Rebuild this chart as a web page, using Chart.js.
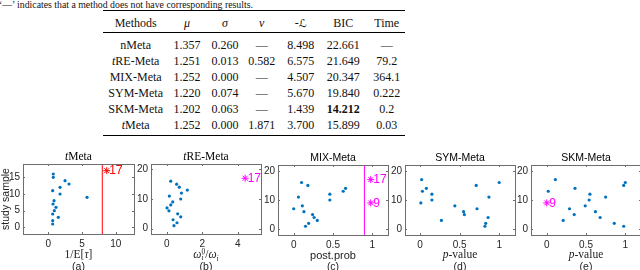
<!DOCTYPE html>
<html>
<head>
<meta charset="utf-8">
<script src="https://cdn.jsdelivr.net/npm/chart.js@4.4.1/dist/chart.umd.min.js"></script>
<style>
html, body { margin: 0; padding: 0; background: #fff; }
body { width: 640px; height: 270px; overflow: hidden; position: relative; font-family: 'Liberation Sans', Arial, sans-serif; color: #111; }
.txt { position: absolute; white-space: nowrap; transform: translate(-50%, -50%); line-height: 1; }
.serif { font-family: 'Liberation Serif', 'Times New Roman', serif; }
.scriptL { font-family: 'DejaVu Sans', sans-serif; font-size: 11px; }
.rule { position: absolute; background: #000; left: 103px; width: 302px; }
canvas { position: absolute; }
</style>
</head>
<body>
<div class="serif" style="position:absolute;left:-1px;top:-1.5px;font-size:9.8px;white-space:nowrap;">‘—’ indicates that a method does not have corresponding results.</div>
<div class="rule" style="top:10px;height:1.4px;"></div>
<div class="rule" style="top:32px;height:0.8px;"></div>
<div class="rule" style="top:134.5px;height:1.4px;"></div>
<div id="table"></div>

<script>
// ----- TABLE DATA -----
const tableHeaders = ['Methods', '<i>μ</i>', '<i>σ</i>', '<i>ν</i>', '-<span class="scriptL">ℒ</span>', 'BIC', 'Time'];
const methods = ['nMeta', 'tRE-Meta', 'MIX-Meta', 'SYM-Meta', 'SKM-Meta', 'tMeta'];
const muVals = [1.357, 1.251, 1.252, 1.220, 1.202, 1.252];
const sigmaVals = [0.260, 0.013, 0.000, 0.074, 0.063, 0.000];
const nuVals = [null, 0.582, null, null, null, 1.871];
const negLogLik = [8.498, 6.575, 4.507, 5.670, 1.439, 3.700];
const bicVals = [22.661, 21.649, 20.347, 19.840, 14.212, 15.899];
const timeVals = ['—', '79.2', '364.1', '0.222', '0.2', '0.03'];
const bestBic = 4; // SKM-Meta row in bold

// ----- PLOT DATA -----
// (a) tMeta: 1/E[tau]
const yA = [1, 2, 3, 4, 5, 6, 7, 8, 9, 10, 11, 12, 13, 14, 15, 16];
const xA = [0.65, 0.65, 1.48, 0.65, 0.89, 1.14, 0.70, 0.85, 5.74, 1.74, 0.65, 1.74, 3.07, 2.48, 0.74, 0.74];
const marksA = [{ x: 8.66, y: 17, label: '17' }];
const cutA = 8.0;
const xTicksA = [0, 5, 10];
const yTicksA = [0, 5, 10, 15];

// (b) tRE-Meta: omega ratio
const yB = [1, 2, 3, 4, 5, 6, 7, 8, 9, 10, 11, 12, 13, 14, 15, 16];
const xB = [0.41, 0.58, 0.36, 0.79, 0.62, 0.13, 0.02, 0.23, 0.34, 0.79, 0.15, 0.83, 1.16, 0.71, 0.56, 0.23];
const marksB = [{ x: 4.41, y: 17, label: '17' }];
const xTicksB = [0, 2, 4];

// (c) MIX-Meta: posterior probability
const yC = [1, 2, 3, 4, 5, 6, 7, 8, 10, 11, 12, 13, 14, 15, 16];
const xC = [0.15, 0.19, 0.30, 0.26, 0.24, 0.13, 0.00, 0.11, 0.46, 0.06, 0.46, 0.63, 0.66, 0.18, 0.10];
const marksC = [{ x: 0.98, y: 17, label: '17' }, { x: 0.98, y: 9, label: '9' }];
const cutC = 0.9;

// (d) SYM-Meta: p-value
const yD = [1, 2, 3, 4, 5, 6, 7, 8, 9, 10, 11, 12, 13, 14, 15, 16, 17];
const xD = [0.82, 0.83, 0.27, 0.86, 0.56, 0.55, 0.72, 0.44, 0.01, 0.15, 0.87, 0.15, 0.03, 0.08, 0.71, 1.00, 0.02];

// (e) SKM-Meta: p-value
const yE = [1, 2, 3, 4, 5, 6, 7, 8, 10, 11, 12, 13, 14, 15, 16, 17];
const xE = [0.98, 0.86, 0.21, 0.68, 0.35, 0.62, 0.29, 0.49, 0.54, 0.75, 0.55, 0.02, 0.36, 0.98, 1.00, 0.11];
const marksE = [{ x: 0.0, y: 9, label: '9' }];

const xTicksP = [0, 0.5, 1];
const yTicks20 = [0, 10, 20];

const BLUE = '#0072bd';
const RED = '#ff0000';
const MAGENTA = '#ff00ff';

// ----- TABLE -----
function fmt(v) { return v == null ? '—' : v.toFixed(3); }
function methodName(m) { return m.replace(/^t/, '<i>t</i>'); }

function renderTable() {
    const colX = [135.7, 187, 225, 261.7, 300.7, 343.3, 386.7];
    const rowY = [45, 61, 77, 92.8, 108.7, 124.7];
    let html = tableHeaders.map((h, c) =>
        `<div class="txt serif" style="left:${colX[c]}px;top:22.5px;font-size:12px;">${h}</div>`).join('');
    methods.forEach((m, r) => {
        const cells = [methodName(m), fmt(muVals[r]), fmt(sigmaVals[r]), fmt(nuVals[r]), fmt(negLogLik[r]),
            r === bestBic ? `<b>${fmt(bicVals[r])}</b>` : fmt(bicVals[r]), timeVals[r]];
        html += cells.map((t, c) =>
            `<div class="txt serif" style="left:${colX[c]}px;top:${rowY[r]}px;font-size:12px;">${t}</div>`).join('');
    });
    document.getElementById('table').innerHTML = html;
}

// ----- PLOTS -----
const boxPlugin = {
    id: 'matlabBox',
    afterDatasetsDraw(chart) {
        const { ctx, chartArea: a, scales } = chart;
        ctx.save();
        ctx.strokeStyle = '#6e6e6e';
        ctx.lineWidth = 1;
        ctx.strokeRect(Math.round(a.left) + 0.5, Math.round(a.top) + 0.5, Math.round(a.right - a.left), Math.round(a.bottom - a.top));
        ctx.beginPath();
        scales.x.ticks.forEach(t => {
            const px = Math.round(scales.x.getPixelForValue(t.value)) + 0.5;
            ctx.moveTo(px, a.bottom); ctx.lineTo(px, a.bottom - 2);
            ctx.moveTo(px, a.top); ctx.lineTo(px, a.top + 2);
        });
        scales.y.ticks.forEach(t => {
            const py = Math.round(scales.y.getPixelForValue(t.value)) + 0.5;
            ctx.moveTo(a.left, py); ctx.lineTo(a.left + 2, py);
            ctx.moveTo(a.right, py); ctx.lineTo(a.right - 2, py);
        });
        ctx.stroke();

        // text next to the flagged studies
        chart.data.datasets.forEach((ds, i) => {
            if (!ds.labels) return;
            const meta = chart.getDatasetMeta(i);
            ctx.fillStyle = ds.borderColor;
            ctx.font = '12px "Liberation Sans", Arial, sans-serif';
            ctx.textBaseline = 'middle';
            meta.data.forEach((pt, k) => ctx.fillText(ds.labels[k], pt.x + 2.5, pt.y + 0.5));
        });
        ctx.restore();
    }
};

const panels = [
    { box: [23, 163, 111, 71], xs: xA, ys: yA, marks: marksA, color: RED, cut: cutA,
      xRange: [-3.75, 12.7], yRange: [-2, 19], xTicks: xTicksA, yTicks: yTicksA,
      title: '<i>t</i>Meta', titleSerif: true, xlabel: '1/E[<i>τ</i>]', xlabelSerif: true, tag: '(a)' },
    { box: [151, 163, 110, 71.5], xs: xB, ys: yB, marks: marksB, color: MAGENTA, cut: null,
      xRange: [-0.88, 5.3], yRange: [-1.8, 21.8], xTicks: xTicksB, yTicks: yTicks20,
      title: '<i>t</i>RE-Meta', titleSerif: true,
      xlabel: '<i>ω</i><span style="display:inline-block;vertical-align:middle;line-height:0.75;font-size:7.5px;"><span style="display:block">0</span><span style="display:block"><i>i</i></span></span>/<i>ω</i><sub style="font-size:7.5px;line-height:0"><i>i</i></sub>',
      xlabelSerif: true, tag: '(b)' },
    { box: [278, 164, 110, 71.5], xs: xC, ys: yC, marks: marksC, color: MAGENTA, cut: cutC,
      xRange: [-0.2, 1.2], yRange: [-2, 22], xTicks: xTicksP, yTicks: yTicks20,
      title: 'MIX-Meta', titleSerif: false, xlabel: 'post.prob', xlabelSerif: false, tag: '(c)' },
    { box: [405, 164, 110, 71.5], xs: xD, ys: yD, marks: [], color: MAGENTA, cut: null,
      xRange: [-0.19, 1.2], yRange: [-2, 22], xTicks: xTicksP, yTicks: yTicks20,
      title: 'SYM-Meta', titleSerif: false, xlabel: '<i>p</i>-value', xlabelSerif: true, tag: '(d)' },
    { box: [531, 164, 110, 71.5], xs: xE, ys: yE, marks: marksE, color: MAGENTA, cut: null,
      xRange: [-0.2, 1.2], yRange: [-2, 22], xTicks: xTicksP, yTicks: yTicks20,
      title: 'SKM-Meta', titleSerif: false, xlabel: '<i>p</i>-value', xlabelSerif: true, tag: '(e)' }
];

function addText(html, cx, cy, size, serif, extra) {
    const d = document.createElement('div');
    d.className = 'txt' + (serif ? ' serif' : '');
    d.style.left = cx + 'px';
    d.style.top = cy + 'px';
    d.style.fontSize = size + 'px';
    if (extra) d.style.cssText += extra;
    d.innerHTML = html;
    document.body.appendChild(d);
}

function makePanel(p) {
    const YW = 22, PT = 8, PR = 10, XH = 18;
    const [bx, by, bw, bh] = p.box;
    const cv = document.createElement('canvas');
    cv.width = bw + YW + PR;
    cv.height = bh + PT + XH;
    cv.style.left = (bx - YW) + 'px';
    cv.style.top = (by - PT) + 'px';
    document.body.appendChild(cv);

    const datasets = [{
        data: p.xs.map((x, k) => ({ x, y: p.ys[k] })),
        pointRadius: 1.6, pointBackgroundColor: BLUE, pointBorderWidth: 0, showLine: false
    }];
    if (p.marks.length) {
        datasets.push({
            data: p.marks.map(m => ({ x: m.x, y: m.y })), labels: p.marks.map(m => m.label),
            pointStyle: 'star', pointRadius: 3.5, borderColor: p.color, pointBorderColor: p.color,
            pointBorderWidth: 1, showLine: false
        });
    }
    if (p.cut != null) {
        datasets.push({
            data: [{ x: p.cut, y: p.yRange[0] }, { x: p.cut, y: p.yRange[1] }],
            showLine: true, borderColor: p.color, borderWidth: 1, pointRadius: 0
        });
    }

    const tickFont = { size: 10, family: '"Liberation Sans", Arial, sans-serif' };
    new Chart(cv, {
        type: 'scatter',
        data: { datasets },
        options: {
            responsive: false, animation: false, devicePixelRatio: 1,
            layout: { padding: { top: PT, right: PR, left: 0, bottom: 0 } },
            plugins: { legend: { display: false }, tooltip: { enabled: false } },
            scales: {
                x: {
                    type: 'linear', min: p.xRange[0], max: p.xRange[1],
                    afterBuildTicks: s => { s.ticks = p.xTicks.map(v => ({ value: v })); },
                    afterFit: s => { s.height = XH; },
                    grid: { display: false, drawTicks: false }, border: { display: false },
                    ticks: { padding: 4, color: '#262626', font: tickFont, maxRotation: 0, autoSkip: false, callback: v => String(v) }
                },
                y: {
                    type: 'linear', min: p.yRange[0], max: p.yRange[1],
                    afterBuildTicks: s => { s.ticks = p.yTicks.map(v => ({ value: v })); },
                    afterFit: s => { s.width = YW; },
                    grid: { display: false, drawTicks: false }, border: { display: false },
                    ticks: { padding: 3, color: '#262626', font: tickFont, autoSkip: false, callback: v => String(v) }
                }
            }
        },
        plugins: [boxPlugin]
    });

    const cx = bx + bw / 2;
    addText(p.title, cx, 156.5, p.titleSerif ? 11.5 : 10.5, p.titleSerif, 'color:#000;');
    addText(p.xlabel, cx, 254.5, p.xlabelSerif ? 11.5 : 11, p.xlabelSerif, 'color:#222;');
    addText(p.tag, cx, 265.5, 10.5, false, 'color:#222;');
}

document.addEventListener('DOMContentLoaded', () => {
    renderTable();
    panels.forEach(makePanel);
    addText('study sample', 5, 198.5, 10.5, false, 'color:#222;transform:translate(-50%,-50%) rotate(-90deg);');
});
</script>
</body>
</html>
